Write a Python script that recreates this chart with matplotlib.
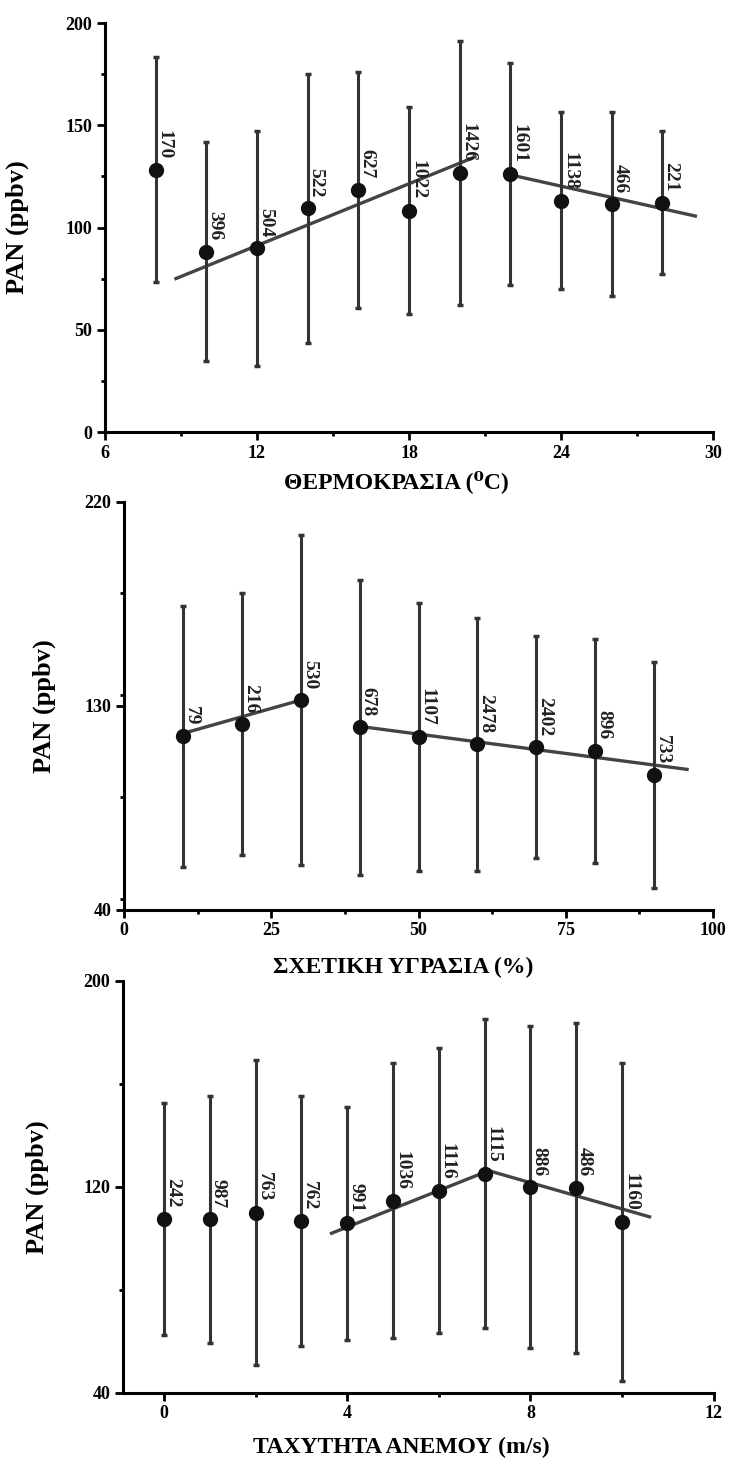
import matplotlib
matplotlib.use("Agg")
import matplotlib.pyplot as plt
from matplotlib.ticker import MultipleLocator
import numpy as np

plt.rcParams['font.family'] = ['Liberation Serif', 'DejaVu Serif']
plt.rcParams['font.weight'] = 'bold'

# PAN vs temperature
t_x = [8, 10, 12, 14, 16, 18, 20, 22, 24, 26, 28]
t_pan = [128.2, 88.2, 89.8, 109.4, 118.4, 108.2, 126.5, 126.2, 113.1, 111.5, 112.2]
t_sd = [55.0, 53.4, 57.5, 65.7, 57.8, 50.6, 64.5, 54.1, 43.2, 45.0, 35.0]
t_n = ['170', '396', '504', '522', '627', '1022', '1426', '1601', '1138', '466', '221']
t_fit_x = [[8.8, 20.6], [22.0, 29.3]]
t_fit_a = [30.7, 186.5]
t_fit_b = [5.04, -2.76]

# PAN vs relative humidity
h_x = [10, 20, 30, 40, 50, 60, 70, 80, 90]
h_pan = [116.6, 121.9, 132.6, 120.5, 116.3, 113.0, 111.8, 110.3, 99.5]
h_sd = [57.5, 57.7, 72.8, 65.0, 59.0, 55.7, 49.0, 49.4, 50.0]
h_n = ['79', '216', '530', '678', '1107', '2478', '2402', '896', '733']
h_fit_x = [[10, 30], [40, 95.6]]
h_fit_a = [110.5, 134.6]
h_fit_b = [0.735, -0.341]

# PAN vs wind speed
w_x = [0, 1, 2, 3, 4, 5, 6, 7, 8, 9, 10]
w_pan = [107.5, 107.3, 109.9, 106.6, 105.7, 114.5, 118.5, 125.0, 119.8, 119.6, 106.3]
w_sd = [45.1, 47.9, 59.2, 48.6, 45.4, 53.4, 55.2, 60.0, 62.6, 64.1, 61.6]
w_n = ['242', '987', '763', '762', '991', '1036', '1116', '1115', '886', '486', '1160']
w_fit_x = [[3.66, 7.03], [7.0, 10.6]]
w_fit_a = [75.95, 162.35]
w_fit_b = [7.09, -5.1]

fig = plt.figure(figsize=(7.3, 14.7), dpi=100)

panels = [
    dict(rect=[0.1438, 0.7061, 0.833, 0.2782], x=t_x, y=t_pan, sd=t_sd, n=t_n,
         fx=t_fit_x, fa=t_fit_a, fb=t_fit_b, xlim=(6, 30), ylim=(0, 200),
         xt=[6, 12, 18, 24, 30], xm=3, yt=[0, 50, 100, 150, 200], ym=25,
         xlabel='ΘΕΡΜΟΚΡΑΣΙΑ (⁰C)', xl=(0.48, -0.093), yl=-0.125),
    dict(rect=[0.1699, 0.381, 0.8068, 0.2776], x=h_x, y=h_pan, sd=h_sd, n=h_n,
         fx=h_fit_x, fa=h_fit_a, fb=h_fit_b, xlim=(0, 100), ylim=(40, 220),
         xt=[0, 25, 50, 75, 100], xm=12.5, yt=[40, 130, 220], ym=45,
         xlabel='ΣΧΕΤΙΚΗ ΥΓΡΑΣΙΑ (%)', xl=(0.474, -0.115), yl=-0.115),
    dict(rect=[0.168, 0.0526, 0.8096, 0.2803], x=w_x, y=w_pan, sd=w_sd, n=w_n,
         fx=w_fit_x, fa=w_fit_a, fb=w_fit_b, xlim=(-0.9, 12), ylim=(40, 200),
         xt=[0, 4, 8, 12], xm=2, yt=[40, 120, 200], ym=40,
         xlabel='ΤΑΧΥΤΗΤΑ ΑΝΕΜΟΥ (m/s)', xl=(0.471, -0.108), yl=-0.125),
]

for p in panels:
    ax = fig.add_axes(p['rect'])
    ax.set_facecolor('none')
    ax.errorbar(p['x'], p['y'], yerr=p['sd'], fmt='o', color='#111111',
                ecolor='#333333', elinewidth=2.2, capsize=2.5, capthick=2.5,
                markersize=10, zorder=3)
    for xs, a, b in zip(p['fx'], p['fa'], p['fb']):
        xs = np.array(xs)
        ax.plot(xs, a + b * xs, color='#444444', lw=2.4, zorder=2)
    for xi, yi, lab in zip(p['x'], p['y'], p['n']):
        ax.annotate(lab, (xi, yi), xytext=(0, 8), textcoords='offset points',
                    rotation=-90, ha='left', va='bottom', fontsize=14,
                    color='#222222')
    ax.set_xlim(*p['xlim'])
    ax.set_ylim(*p['ylim'])
    ax.set_xticks(p['xt'])
    ax.set_yticks(p['yt'])
    ax.xaxis.set_minor_locator(MultipleLocator(p['xm']))
    ax.yaxis.set_minor_locator(MultipleLocator(p['ym']))
    ax.tick_params(which='major', direction='out', length=6, width=2,
                   labelsize=13, pad=3)
    ax.tick_params(which='minor', direction='out', length=3, width=2)
    for s in ['top', 'right']:
        ax.spines[s].set_visible(False)
    for s in ['left', 'bottom']:
        ax.spines[s].set_linewidth(2.2)
    ax.set_xlabel(p['xlabel'], fontsize=17, fontweight='bold')
    ax.xaxis.set_label_coords(*p['xl'])
    ax.set_ylabel('PAN (ppbv)', fontsize=19, fontweight='bold')
    ax.yaxis.set_label_coords(p['yl'], 0.5)

fig.savefig('out.png', dpi=100)
